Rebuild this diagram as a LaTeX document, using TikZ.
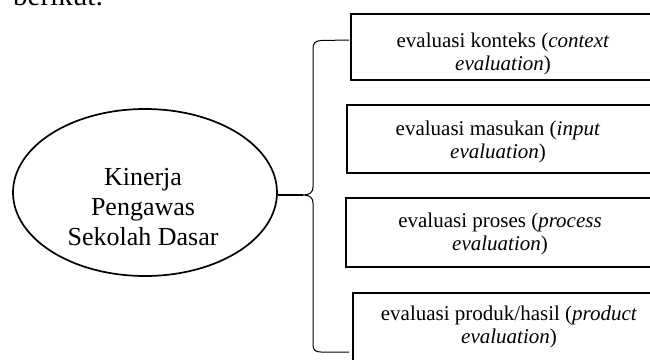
\documentclass[tikz,border=0pt]{standalone}
\usepackage{fontspec}
\setmainfont{Liberation Serif}
\usetikzlibrary{shapes.geometric}
\tikzset{
  evalbox/.style={draw, line width=1.9pt, rectangle, inner sep=0pt, minimum width=309pt},
  boxtext/.style={align=center, inner sep=0pt, font=\fontsize{21}{23.5}\selectfont},
  mainell/.style={draw, line width=1.7pt, ellipse, inner sep=0pt, minimum width=264pt, minimum height=167pt},
  maintext/.style={align=center, inner sep=0pt, font=\fontsize{26}{30}\selectfont},
  bracel/.style={line width=1pt},
  conn/.style={line width=1.3pt}
}
\begin{document}
\begin{tikzpicture}[x=1pt,y=-1pt]
\useasboundingbox (0,0) rectangle (650,359);
\clip (0,0) rectangle (650,359);
% partially visible text above
\node[anchor=base west, inner sep=0pt, font=\fontsize{29}{33}\selectfont] (ber) at (13,5) {berikut:};
% ellipse
\node[mainell] (ell) at (145,192.5) {};
\node[maintext] (ktext) at (143,207.5) {Kinerja\\Pengawas\\Sekolah Dasar};
% boxes
\node[evalbox, minimum height=66pt] (b1) at (505.5,47) {};
\node[evalbox, minimum height=68pt, minimum width=313pt] (b2) at (503.5,139) {};
\node[evalbox, minimum height=69pt, minimum width=314pt] (b3) at (503,232.5) {};
\node[evalbox, minimum height=82pt, minimum width=307pt] (b4) at (506.5,334) {};
\node[boxtext] (t1) at (503,54) {evaluasi konteks (\textit{context}\\\textit{evaluation})};
\node[boxtext] (t2) at (498,142) {evaluasi masukan (\textit{input}\\\textit{evaluation})};
\node[boxtext] (t3) at (500,234) {evaluasi proses (\textit{process}\\\textit{evaluation})};
\node[boxtext] (t4) at (509,327) {evaluasi produk/hasil (\textit{product}\\\textit{evaluation})};
% brace
\coordinate (btop) at (349,40);
\coordinate (bbot) at (349,352);
\coordinate (tip) at (303,195);
\draw[bracel] (btop) -- (321,40.5) .. controls (315,41) and (313,43) .. (313,49)
  -- (313,187) .. controls (313,192) and (310,195) .. (tip)
  .. controls (310,195) and (313,198) .. (313,203)
  -- (313,344) .. controls (313,350) and (315,352) .. (321,352) -- (bbot);
% connector
\draw[conn] (tip -| ell.east) -- (tip);
\end{tikzpicture}
\end{document}
